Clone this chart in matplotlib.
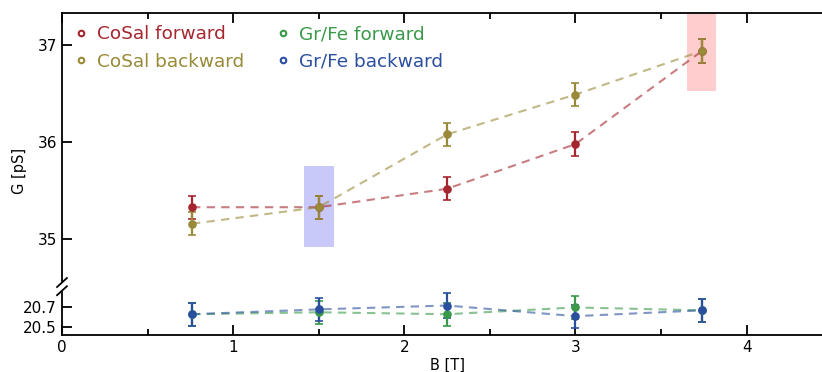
import matplotlib
matplotlib.use("Agg")
import matplotlib.pyplot as plt
from matplotlib.patches import Rectangle

plt.rcParams['font.family'] = ['DejaVu Sans']

# Magnetic field sweep points [T]
B = [0.76, 1.50, 2.25, 3.00, 3.74]

# Conductance [pS]
cosal_fwd = [35.33, 35.33, 35.52, 35.98, 36.94]
cosal_bwd = [35.16, 35.33, 36.08, 36.49, 36.94]
grfe_fwd = [20.63, 20.65, 20.63, 20.70, 20.67]
grfe_bwd = [20.63, 20.68, 20.72, 20.61, 20.67]

cosal_fwd_err = [0.12, 0.12, 0.12, 0.12, 0.12]
cosal_bwd_err = [0.12, 0.12, 0.12, 0.12, 0.12]
grfe_fwd_err = [0.12, 0.12, 0.12, 0.12, 0.12]
grfe_bwd_err = [0.12, 0.12, 0.13, 0.12, 0.12]

labels = ["CoSal forward", "CoSal backward", "Gr/Fe forward", "Gr/Fe backward"]
colors = ["#a5262e", "#988a38", "#3a9a4a", "#2a4f9e"]

# Highlighted regions (x0, x1, y0, y1)
blue_box = (1.415, 1.59, 34.92, 35.75)
pink_box = (3.65, 3.82, 36.53, 37.40)

fig = plt.figure(figsize=(8.22, 3.72), dpi=100)
left, width = 0.0754, 0.937
ax_top = fig.add_axes([left, 0.2446, width, 0.7204])
ax_bot = fig.add_axes([left, 0.0995, width, 0.1156])

xlim = (0, 4.5)
for ax in (ax_top, ax_bot):
    ax.set_xlim(*xlim)
    ax.spines['right'].set_visible(False)
    for s in ax.spines.values():
        s.set_linewidth(1.3)
    ax.set_xticks([0, 1, 2, 3, 4])
    ax.set_xticks([0.5, 1.5, 2.5, 3.5], minor=True)
    ax.tick_params(which='major', direction='in', length=7, width=1.3, labelsize=11)
    ax.tick_params(which='minor', direction='in', length=4, width=1.3)

ax_top.set_ylim(34.57, 37.33)
ax_top.set_yticks([35, 36, 37])
ax_top.spines['bottom'].set_visible(False)
ax_top.tick_params(axis='x', which='both', bottom=False, top=True, labelbottom=False)
ax_top.tick_params(axis='y', which='minor', left=False)

ax_bot.set_ylim(20.415, 20.86)
ax_bot.set_yticks([20.5, 20.7])
ax_bot.set_yticklabels(["20.5", "20.7"])
ax_bot.spines['top'].set_visible(False)
ax_bot.tick_params(axis='x', which='both', top=False)
ax_bot.tick_params(axis='y', which='minor', left=False)

for box, col in ((blue_box, "#c9c9f9"), (pink_box, "#ffcdcd")):
    x0, x1, y0, y1 = box
    ax_top.add_patch(Rectangle((x0, y0), x1 - x0, y1 - y0, facecolor=col,
                               edgecolor='none', zorder=0))

def series(ax, y, err, col, lab):
    ax.plot(B, y, ls=(0, (4, 3)), color=col, alpha=0.6, lw=1.5, zorder=2)
    ax.errorbar(B, y, yerr=err, fmt='o', ms=5, mfc=col, mec=col, mew=1.2,
                ecolor=col, elinewidth=1.6, capsize=3, capthick=1.6, zorder=3)
    return ax.plot([], [], 'o', ms=4, mfc='none', mec=col, mew=1.5, ls='none', label=lab)[0]

handles = [
    series(ax_top, cosal_fwd, cosal_fwd_err, colors[0], labels[0]),
    series(ax_top, cosal_bwd, cosal_bwd_err, colors[1], labels[1]),
    series(ax_bot, grfe_fwd, grfe_fwd_err, colors[2], labels[2]),
    series(ax_bot, grfe_bwd, grfe_bwd_err, colors[3], labels[3]),
]

leg = ax_top.legend(handles=handles, ncol=2, loc='upper left', frameon=False,
                    bbox_to_anchor=(0.002, 0.985), fontsize=13.3, handlelength=1.0,
                    handletextpad=0.38, columnspacing=1.6, labelspacing=0.52,
                    borderpad=0.45, borderaxespad=0.0)
for txt, col in zip(leg.get_texts(), colors):
    txt.set_color(col)

# Break marks on the left spine
kw = dict(transform=fig.transFigure, color='black', lw=1.3, clip_on=False)
bx = left
for dy in (0.0, 0.022):
    y0 = 0.2185 + dy
    fig.add_artist(plt.Line2D([bx - 0.006, bx + 0.006], [y0 - 0.012, y0 + 0.012], **kw))

ax_bot.set_xlabel("B [T]", fontsize=10.5, labelpad=2)
fig.text(0.024, 0.54, "G [pS]", rotation=90, fontsize=10.5, ha='center', va='center')

fig.savefig("out.png", dpi=100)
